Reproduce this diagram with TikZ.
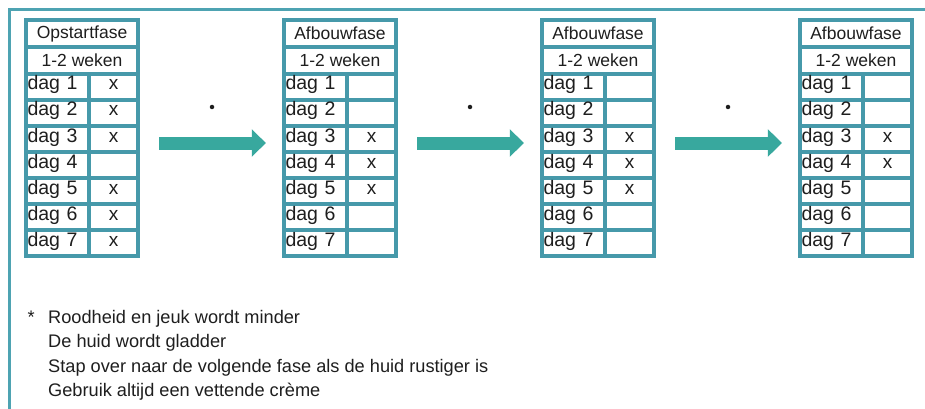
\documentclass[tikz,border=0pt]{standalone}
\usepackage{fontspec}
\setmainfont{Liberation Sans}
\usetikzlibrary{arrows.meta,positioning,fit,calc}
\definecolor{tabelteal}{RGB}{70,153,170}
\definecolor{pijlgroen}{RGB}{56,168,158}
\definecolor{kaderblauw}{RGB}{78,163,178}
\definecolor{tekstgrijs}{RGB}{30,30,30}

\tikzset{
    cel/.style={rectangle, draw=tabelteal, fill=white, line width=4.2pt,
        inner sep=0pt, outer sep=0pt, text=tekstgrijs},
    kopcel/.style={cel, minimum width=112pt, minimum height=27pt,
        font=\fontsize{17.5}{20}\selectfont},
    dagcel/.style={cel, minimum width=63pt, minimum height=26pt,
        text width=60pt, inner xsep=1.5pt, align=left,
        text height=16pt, text depth=10pt,
        font=\fontsize{19.5}{22}\selectfont},
    kruiscel/.style={cel, minimum width=49pt, minimum height=26pt},
    kruis/.style={inner sep=0pt, text=tekstgrijs, text height=16pt, text depth=10pt,
        font=\fontsize{19}{22}\selectfont},
    blokpijl/.style={draw=pijlgroen, line width=13pt, -{Triangle[width=27pt,length=14pt]}},
    stip/.style={circle, fill=tekstgrijs, inner sep=0pt, minimum size=4.5pt},
    voetnoot/.style={anchor=base west, inner sep=0pt, text=tekstgrijs,
        font=\fontsize{18.2}{20}\selectfont},
    kader/.style={draw=kaderblauw, line width=3.5pt}
}

% #1 naam, #2 linkerrand, #3 titel, #4 dagen met kruisje
\newcommand{\fasetabel}[4]{%
    \node[kopcel, anchor=north west] (#1-titel) at (#2,20) {#3};
    \node[kopcel, below=0pt of #1-titel] (#1-duur) {1-2 weken};
    \foreach \d in {1,...,7} {
        \node[dagcel, anchor=north west] (#1-dag\d) at (#2,{74+26*(\d-1)}) {dag \d};
        \node[kruiscel, right=0pt of #1-dag\d] (#1-vak\d) {};
    }
    \foreach \d in {#4} {\node[kruis] at (#1-vak\d) {x};}
    \node[fit=(#1-titel)(#1-dag7)(#1-vak7), inner sep=0pt] (#1) {};
}

\begin{document}
\begin{tikzpicture}[x=1pt, y=-1pt]
    \useasboundingbox (0,0) rectangle (925,409);
    \draw[kader] (9.5,9.5) rectangle (940,425);

    \fasetabel{opstart}{26}{Opstartfase}{1,2,3,5,6,7}
    \fasetabel{afbouwa}{284}{Afbouwfase}{3,4,5}
    \fasetabel{afbouwb}{542}{Afbouwfase}{3,4,5}
    \fasetabel{afbouwc}{800}{Afbouwfase}{3,4}

    \draw[blokpijl] ($(opstart.east)+(21,5)$) -- ($(afbouwa.west)+(-18,5)$);
    \draw[blokpijl] ($(afbouwa.east)+(21,5)$) -- ($(afbouwb.west)+(-18,5)$);
    \draw[blokpijl] ($(afbouwb.east)+(21,5)$) -- ($(afbouwc.west)+(-18,5)$);

    \node[stip] (stip1) at (212,107) {};
    \node[stip] (stip2) at (470,107) {};
    \node[stip] (stip3) at (728,107) {};

    \foreach \tekst [count=\i] in {Roodheid en jeuk wordt minder,
        De huid wordt gladder,
        Stap over naar de volgende fase als de huid rustiger is,
        Gebruik altijd een vettende crème}
        \node[voetnoot] (regel\i) at (48,{323+24.5*(\i-1)}) {\tekst};
    \node[voetnoot, anchor=base east, xshift=-13pt] (ster) at (regel1.base west) {*};
\end{tikzpicture}
\end{document}
